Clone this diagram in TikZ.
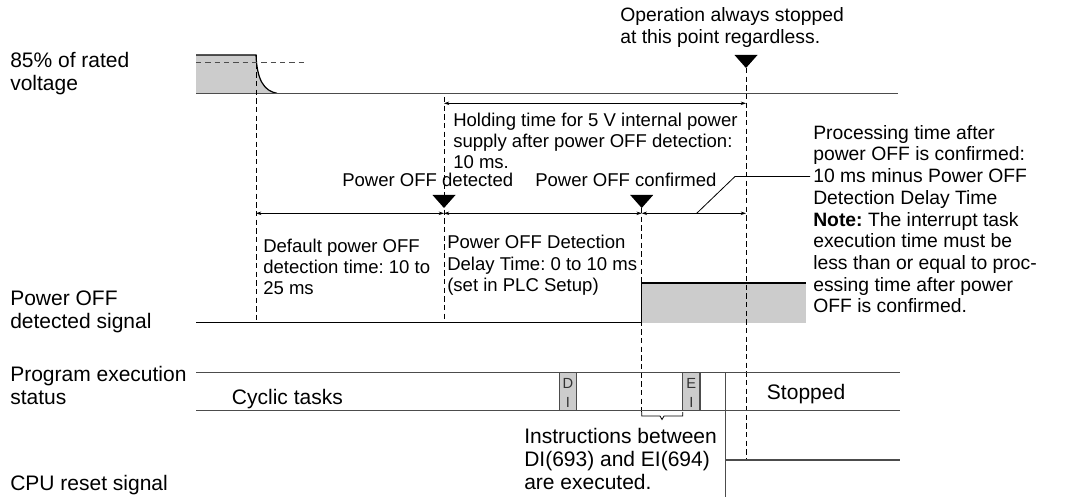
\documentclass[tikz,border=0pt]{standalone}
\usepackage{fontspec}
\setmainfont{Liberation Sans}
\usepackage{xcolor}
\usepackage{tikz}
\usetikzlibrary{arrows.meta}
\newcommand\bigtxt{\fontsize{15.75}{17.25}\selectfont}
\newcommand\midtxt{\fontsize{14.5}{16.3}\selectfont}
\newcommand\smalltxt{\fontsize{13.9}{16.1}\selectfont}
\newcommand\tinytxt{\fontsize{11}{14.2}\selectfont}
\definecolor{sgray}{gray}{0.8}
\definecolor{lgray}{gray}{0.3}
\frenchspacing

\begin{document}
\begin{tikzpicture}[x=0.75pt,y=-0.75pt,>={Stealth[length=4pt,width=2.6pt]},
  lbl/.style={anchor=base west,inner sep=0pt,align=left,font=\bigtxt},
  note/.style={anchor=base west,inner sep=0pt,align=left,font=\smalltxt},
  dim/.style={<->,line width=0.6pt},
  guide/.style={line width=0.6pt,dash pattern=on 4pt off 2.5pt},
  sig/.style={line width=0.9pt,lgray}]
\useasboundingbox (0,0) rectangle (1066,498);
% labels on the left (base = last line)
\node[lbl] (v85) at (10,91) {85\% of rated\\voltage};
\node[lbl] (pofsig) at (10,329) {Power OFF\\detected signal};
\node[lbl] (prog) at (10,404.7) {Program execution\\status};
\node[lbl] (cpu) at (10,490) {CPU reset signal};
% voltage
\fill[sgray](196,55)--(256,55)..controls(257,80)and(264,91)..(277,93.3)--(196,93.3)--cycle;
\draw[line width=0.9pt](196,55)--(256,55)..controls(257,80)and(264,91)..(277,93.3);
\draw[sig](196,93.3)--(898,93.3);
\draw[lgray,line width=0.6pt,dash pattern=on 4pt off 3pt](196,62)--(306,62);
% power OFF detected signal
\fill[sgray](641.7,283)rectangle(806,322.7);
\draw[line width=0.9pt](196,322.7)--(641.7,322.7)--(641.7,283)--(806,283);
% guides
\draw[guide](256,55)--(256,322.7);
\draw[guide](444,97)--(444,322.7);
\draw[guide](641.7,208)--(641.7,412);
\draw[guide](746,68)--(746,460);
\foreach \x/\y in {444/195,641.7/195,746/55}
  \fill(\x-11.5,\y)--(\x+11.5,\y)--(\x,\y+13)--cycle;
% time spans
\draw[dim](444,103.3)--(746,103.3);
\draw[dim](256,213.3)--(444,213.3);
\draw[dim](444,213.3)--(641.7,213.3);
\draw[dim](641.7,213.3)--(746,213.3);
\draw[line width=0.6pt](696.7,213.3)--(735,176.5)--(810,176.5);
% program execution status
\draw[sig](196,372.3)--(900,372.3);
\draw[sig](196,410.7)--(900,410.7);
\draw[sig,fill=sgray](559.3,372.3)rectangle(576.7,410.7);
\draw[sig,fill=sgray](682.7,372.3)rectangle(700,410.7);
\node[font=\tinytxt,align=center,inner sep=0pt,black!80] (di) at (568,392.5) {D\\I};
\node[font=\tinytxt,align=center,inner sep=0pt,black!80] (ei) at (691.3,392.5) {E\\I};
\draw[sig](725.7,372.3)--(725.7,497);
\draw[line width=0.6pt](641.7,412)--(641.7,416)--(660,416)--(662,419.5)--(664,416)--(682.7,416)--(682.7,412);
% CPU reset
\draw[sig](725.7,460)--(900,460);
% texts
\node[anchor=base west,inner sep=0pt,align=left,font=\midtxt] (op) at (620,43.7) {Operation always stopped\\at this point regardless.};
\node[note] (hold) at (453,169) {Holding time for 5 V internal power\\supply after power OFF detection:\\10 ms.};
\node[note] (det) at (342,186.7) {Power OFF detected};
\node[note] (conf) at (535,186.7) {Power OFF confirmed};
\node[anchor=base west,inner sep=0pt,align=left,font=\midtxt] (proc) at (813,313) {Processing time after\\power OFF is confirmed:\\10 ms minus Power OFF\\Detection Delay Time\\\textbf{Note:} The interrupt task\\execution time must be\\less than or equal to proc-\\essing time after power\\OFF is confirmed.};
\node[note] (dflt) at (263,295) {Default power OFF\\detection time: 10 to\\25 ms};
\node[note] (delay) at (447,291.6) {Power OFF Detection\\Delay Time: 0 to 10 ms\\(set in PLC Setup)};
\node[lbl] (cyc) at (231.7,404) {Cyclic tasks};
\node[lbl] (stop) at (766.7,399) {Stopped};
\node[lbl] (instr) at (524,489) {Instructions between\\DI(693) and EI(694)\\are executed.};
\end{tikzpicture}
\end{document}
